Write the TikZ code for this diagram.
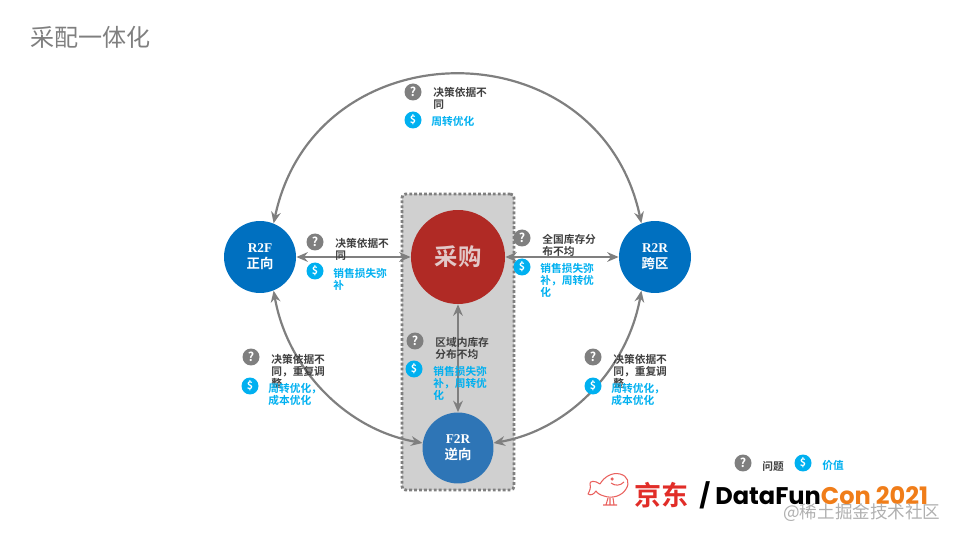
\documentclass[tikz,border=0pt]{standalone}
\usepackage{fontspec}
\setmainfont{Noto Sans CJK SC}[BoldFont={Noto Sans CJK SC Bold}]
\newfontfamily\romanfont{Liberation Serif}
\newfontfamily\logofont{Poppins}
\usetikzlibrary{arrows.meta}
\definecolor{markgray}{RGB}{127,127,127}
\definecolor{titlegray}{RGB}{127,127,127}
\definecolor{zonegray}{RGB}{208,208,208}
\definecolor{textgray}{RGB}{64,64,64}
\definecolor{valueblue}{RGB}{0,176,240}
\definecolor{sideblue}{RGB}{0,112,192}
\definecolor{backblue}{RGB}{46,117,182}
\definecolor{buyred}{RGB}{176,42,37}
\definecolor{buytext}{RGB}{226,200,200}
\definecolor{jdred}{RGB}{225,45,40}
\definecolor{conorange}{RGB}{240,125,25}
\definecolor{markgrey}{RGB}{176,176,176}
\tikzset{
  flow/.style={line width=1.25pt,markgray,{Stealth[length=6.5pt,width=5.5pt]}-{Stealth[length=6.5pt,width=5.5pt]}},
  hub/.style={circle,inner sep=0pt,align=center,text=white,font=\fontsize{7.6}{9.2}\selectfont\bfseries},
  ask/.style={circle,fill=markgray,minimum size=0.34cm,inner sep=0pt,text=white,font=\fontsize{7}{7}\selectfont\bfseries},
  coin/.style={circle,fill=valueblue,minimum size=0.34cm,inner sep=0pt,text=white,font=\fontsize{6}{6}\selectfont\bfseries},
  issue/.style={anchor=north west,inner sep=0pt,align=left,text=textgray,font=\fontsize{6.1}{6.9}\selectfont\bfseries},
  gain/.style={anchor=north west,inner sep=0pt,align=left,text=valueblue,font=\fontsize{6.1}{6.9}\selectfont\bfseries},
}
\begin{document}
\begin{tikzpicture}[x=0.02cm,y=-0.02cm]
  \useasboundingbox (0,0) rectangle (960,540);

  \node[anchor=west,inner sep=0pt,text=titlegray,font=\fontsize{13.7}{14}\selectfont] (title) at (30,37) {采配一体化};

  % shaded zone
  \node[draw=markgray,fill=zonegray,line width=1.6pt,dash pattern=on 1.6pt off 1.2pt,rounded corners=2pt,
    minimum width=2.24cm,minimum height=5.92cm,inner sep=0pt] (zone) at (458,342) {};

  % hubs
  \node[hub,fill=sideblue,minimum size=1.44cm] (r2f) at (260,257) {{\romanfont R2F}\\正向};
  \node[hub,fill=sideblue,minimum size=1.44cm] (r2r) at (655,257) {{\romanfont R2R}\\跨区};
  \node[hub,fill=backblue,minimum size=1.42cm] (f2r) at (458,448) {{\romanfont F2R}\\逆向};
  \node[hub,fill=buyred,minimum size=1.88cm,text=buytext,font=\fontsize{13.3}{14}\selectfont\bfseries] (buy) at (458,257) {采购};

  % connectors
  \draw[flow] (r2f.68) to[out=78,in=102,looseness=1.41] (r2r.112);
  \draw[flow] (r2f.-68) to[out=-80,in=170,looseness=0.94] (f2r.172);
  \draw[flow] (r2r.-112) to[out=-100,in=10,looseness=0.94] (f2r.8);
  \draw[flow] (r2f.east) -- (buy.west);
  \draw[flow] (buy.east) -- (r2r.west);
  \draw[flow] (buy.south) -- (f2r.north);

  % marks
  \foreach \name/\x/\y in {top/413/92,left/315/242,right/522/238,mid/415/341,low/251/357,high/593/357,key/743/463}
    \node[ask] (ask\name) at (\x,\y) {?};
  \foreach \name/\x/\y in {top/413/120,left/315/271,right/522/267,mid/414/369,low/250/386,high/593/386,key/803/463}
    \node[coin] (coin\name) at (\x,\y) {\$};

  % labels
  \node[issue] (issuetop) at (433,87) {决策依据不\\同};
  \node[gain] (gaintop) at (431,116) {周转优化};
  \node[issue] (issueleft) at (335,238) {决策依据不\\同};
  \node[gain] (gainleft) at (333,268) {销售损失弥\\补};
  \node[issue] (issueright) at (542,234) {全国库存分\\布不均};
  \node[gain] (gainright) at (540,263) {销售损失弥\\补，周转优\\化};
  \node[issue] (issuemid) at (435,337) {区域内库存\\分布不均};
  \node[gain] (gainmid) at (433,366) {销售损失弥\\补，周转优\\化};
  \node[issue] (issuelow) at (271,354) {决策依据不\\同，重复调\\整};
  \node[gain] (gainlow) at (268,383) {周转优化，\\成本优化};
  \node[issue] (issuehigh) at (613,354) {决策依据不\\同，重复调\\整};
  \node[gain] (gainhigh) at (611,383) {周转优化，\\成本优化};
  \node[issue] (issuekey) at (762,461) {问题};
  \node[gain] (gainkey) at (822,460) {价值};

  % logo
  \draw[jdred!75,line width=0.6pt,line join=round]
    (600,484) .. controls (604,477) and (612,472) .. (620,474)
    .. controls (628,476) and (630,483) .. (626,489)
    .. controls (622,496) and (612,499) .. (604,496)
    .. controls (600,495) and (597,493) .. (596,491)
    .. controls (594,494) and (591,496) .. (588,494)
    .. controls (590,490) and (591,488) .. (590,484)
    .. controls (589,481) and (595,480) .. (600,484);
  \draw[jdred!75,line width=0.6pt] (611,483) .. controls (615,486) and (620,486) .. (624,482);
  \fill[jdred!75] (612,479) circle (1pt);
  \draw[jdred!75,line width=0.6pt] (608,498) -- (606,505) (613,498) -- (614,505) (603,505) -- (617,505) (610,498) -- (610,505);
  \node[anchor=west,inner sep=0pt,text=jdred,font=\fontsize{15.4}{16}\selectfont\bfseries] (jd) at (634,495) {京东};
  \node[anchor=west,inner sep=0pt,font=\fontsize{13.7}{14}\selectfont\logofont\bfseries] (dfc) at (699,495)
    {/ DataFun\textcolor{conorange}{Con 2021}};
  \node[anchor=west,inner sep=0pt,text=markgrey,font=\fontsize{10}{10}\selectfont] (mark) at (783,513) {@稀土掘金技术社区};
\end{tikzpicture}
\end{document}
